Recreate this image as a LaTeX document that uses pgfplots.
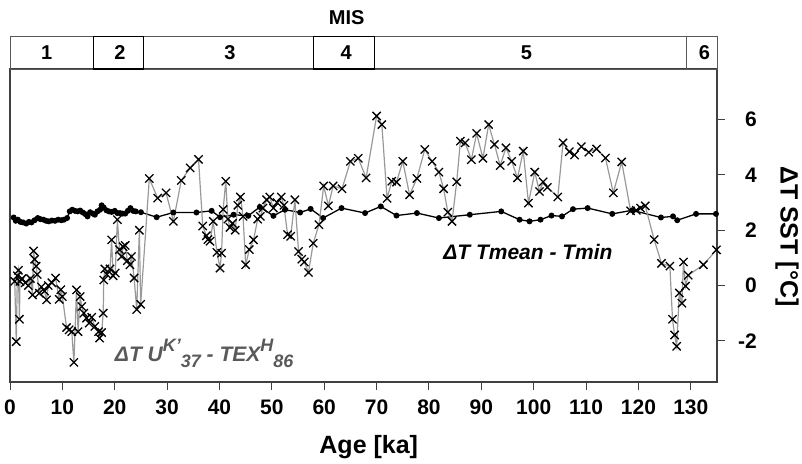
\documentclass[border=0pt]{standalone}
\usepackage{pgfplots}
\usepackage{pgfplotstable}
\pgfplotsset{compat=1.18}
\usepackage{fontspec}
\setmainfont{Liberation Sans}

\pgfplotstableread{
age val
0.7 2.46
1.1 2.34
1.5 2.38
2.0 2.30
2.5 2.28
3.1 2.24
3.6 2.30
4.1 2.28
4.7 2.36
5.3 2.44
5.8 2.40
6.4 2.38
6.9 2.34
7.4 2.32
8.0 2.35
8.6 2.34
9.2 2.38
9.8 2.36
10.3 2.38
10.9 2.44
11.4 2.68
11.9 2.74
12.4 2.70
12.9 2.68
13.4 2.71
13.9 2.64
14.4 2.58
14.8 2.50
15.3 2.65
15.8 2.60
16.2 2.56
16.7 2.68
17.2 2.74
17.5 2.90
17.9 2.82
18.4 2.72
18.9 2.68
19.4 2.66
20.0 2.70
20.5 2.62
21.0 2.62
21.5 2.60
22.0 2.60
22.5 2.70
23.0 2.80
23.5 2.70
24.0 2.68
25.0 2.65
28.0 2.47
31.2 2.64
35.6 2.64
38.5 2.70
40.1 2.47
42.7 2.56
45.5 2.52
47.7 2.84
50.3 2.52
52.5 2.74
55.4 2.64
57.4 2.77
59.8 2.44
63.3 2.80
67.8 2.62
70.8 2.86
73.8 2.53
77.7 2.62
81.9 2.44
87.8 2.56
93.8 2.68
97.3 2.38
99.2 2.32
101.3 2.38
103.4 2.53
105.4 2.50
107.5 2.76
110.3 2.80
115.0 2.59
118.8 2.72
124.3 2.46
126.6 2.50
127.4 2.36
131.0 2.59
134.8 2.59
}\tmeantable

\pgfplotstableread{
age val
0.9 0.15
1.2 -2.03
1.4 0.35
1.6 0.55
1.8 -1.22
1.9 0.15
2.3 0.25
2.9 0.10
3.5 0.00
3.9 0.25
4.3 -0.34
4.5 1.25
4.7 0.95
5.0 0.70
5.2 0.40
5.6 -0.28
6.0 -0.05
6.6 -0.20
7.0 -0.52
7.3 0.00
8.0 0.10
8.7 0.27
9.4 -0.50
9.7 -0.15
10.0 -0.40
10.8 -1.52
11.3 -1.60
11.8 -1.67
12.2 -2.78
12.7 -0.16
13.0 -1.67
13.4 -0.40
13.7 -0.76
14.1 -1.00
14.6 -1.18
15.1 -1.36
15.6 -1.15
16.2 -1.48
16.9 -1.67
17.1 -1.90
17.5 -1.70
17.8 -1.00
17.9 0.20
18.1 0.60
18.5 0.40
19.1 0.60
19.4 1.65
19.7 0.35
20.1 0.45
20.5 2.38
20.9 1.30
21.3 1.05
21.6 1.40
22.0 1.45
22.4 0.90
22.9 0.75
23.2 1.05
23.7 0.27
24.2 -0.87
24.7 2.00
24.95 -0.68
26.6 3.87
28.2 3.16
29.8 3.35
31.2 2.32
32.7 3.80
34.4 4.25
36.0 4.56
36.8 2.15
37.5 1.80
37.8 1.66
38.2 1.60
38.8 2.32
39.5 1.20
40.1 0.63
40.4 1.17
40.7 2.75
41.2 3.77
41.6 2.40
42.0 2.10
42.5 2.25
43.0 2.00
43.5 2.90
44.0 3.20
44.5 2.50
45.0 0.75
45.7 1.30
46.5 1.65
47.3 2.40
47.8 2.50
48.3 2.80
49.0 3.10
49.6 3.20
50.3 2.80
51.0 3.00
51.8 3.20
52.3 2.90
53.0 1.84
53.6 1.78
54.4 3.10
55.1 1.23
55.7 0.95
56.2 0.85
57.0 0.47
57.9 1.53
59.0 2.20
59.9 3.60
60.8 2.88
61.7 3.60
63.4 3.50
65.0 4.49
66.5 4.60
68.0 3.89
70.0 6.13
71.0 5.82
72.0 3.15
72.9 3.77
73.8 3.74
75.0 4.49
76.3 3.28
77.7 3.87
79.2 4.92
80.6 4.49
81.9 4.10
82.8 3.50
83.6 2.65
84.4 2.32
85.3 3.75
86.0 5.22
86.9 5.16
88.1 4.55
89.1 5.50
90.3 4.60
91.4 5.82
92.5 5.10
93.6 4.34
94.7 4.98
95.8 4.49
96.9 3.89
98.0 4.86
99.0 2.98
100.2 4.10
101.1 3.40
101.8 3.75
102.6 3.55
104.6 3.20
105.6 5.16
106.8 4.84
107.8 4.72
109.1 5.02
110.5 4.82
112.0 4.94
113.7 4.61
115.2 3.35
116.8 4.47
118.5 2.70
119.6 2.72
120.4 2.80
121.3 2.88
123.0 1.66
124.4 0.80
126.0 0.70
126.5 -1.22
126.9 -1.79
127.3 -2.20
127.8 -0.27
128.3 -0.64
128.6 0.85
129.0 -0.02
129.5 0.37
132.4 0.75
134.9 1.29
}\uktable

\begin{document}
\begin{tikzpicture}
\begin{axis}[
  scale only axis, width=707pt, height=313pt,
  xmin=0, xmax=135, ymin=-3.49, ymax=7.83,
  axis line style={black!75, line width=1.1pt},
  xtick={0,10,...,130}, ytick={-2,0,2,4,6},
  yticklabels={-2,0,2,4,6},
  xtick pos=bottom, ytick pos=right, yticklabel pos=right,
  tick align=outside,
  major tick length=8pt,
  tick style={black!75, line width=1pt},
  /pgf/number format/assume math mode=true,
  xticklabel style={font=\bfseries\fontsize{21}{21}\selectfont, anchor=north, yshift=-6pt},
  yticklabel style={font=\bfseries\fontsize{21}{21}\selectfont, anchor=east, inner sep=0pt, xshift=32pt},
  clip=false,
]
\coordinate (sw) at (rel axis cs:0,0);
\coordinate (ne) at (rel axis cs:1,1);

\addplot[black, line width=1.3pt, mark=*, mark size=2.3pt] table[x=age, y=val] {\tmeantable};
\addplot[black!40, line width=1.2pt, mark=x, mark size=5.8pt, mark options={black, line width=1.3pt}] table[x=age, y=val] {\uktable};

% MIS bar
\draw[black!65, line width=0.9pt] (axis cs:0,7.83) rectangle (axis cs:135,9.0);
\draw[black!65, line width=0.9pt] (axis cs:129.2,7.83) -- (axis cs:129.2,9.0);
\draw[black, line width=1.2pt] (axis cs:15.9,7.83) rectangle (axis cs:25.5,9.0);
\draw[black, line width=1.2pt] (axis cs:58.0,7.83) rectangle (axis cs:69.6,9.0);
\begin{scope}[every node/.style={font=\bfseries\fontsize{20}{20}\selectfont, inner sep=0pt}]
\node at (axis cs:7.0,8.42) {1};
\node at (axis cs:21.0,8.42) {2};
\node at (axis cs:42.0,8.42) {3};
\node at (axis cs:64.2,8.42) {4};
\node at (axis cs:98.6,8.42) {5};
\node at (axis cs:132.6,8.42) {6};
\node at (axis cs:64.3,9.68) {MIS};
\end{scope}

% series labels
\node[anchor=base west, inner sep=0pt, font=\bfseries\itshape\fontsize{21}{21}\selectfont] at (axis cs:82.7,0.93) {ΔT Tmean - Tmin};
\node[anchor=base west, inner sep=0pt, text=black!65, font=\bfseries\itshape\fontsize{21}{21}\selectfont] at (axis cs:20.0,-2.76) {ΔT U\raisebox{0.5em}{\fontsize{18}{18}\selectfont K'}\raisebox{-0.28em}{\fontsize{18}{18}\selectfont 37} - TEX\raisebox{0.5em}{\fontsize{18}{18}\selectfont H}\raisebox{-0.28em}{\fontsize{18}{18}\selectfont 86}};

% axis titles
\node[font=\bfseries\fontsize{25}{25}\selectfont] at ([yshift=-65pt]axis cs:68.5,-3.49) {Age [ka]};
\node[rotate=-90, font=\bfseries\fontsize{25}{25}\selectfont] at ([xshift=70pt]axis cs:135,1.78) {ΔT SST [°C]};
\end{axis}
\pgfresetboundingbox
\path ([shift={(-10pt,-81pt)}]sw) rectangle ([shift={(85pt,69pt)}]ne);
\end{tikzpicture}
\end{document}
